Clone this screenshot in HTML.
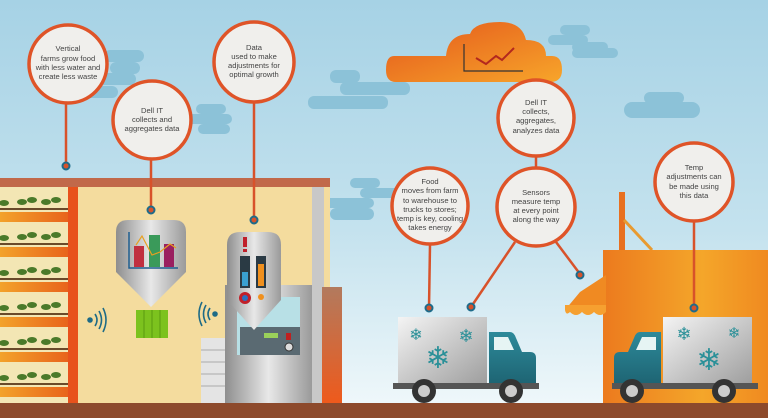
<!DOCTYPE html>
<html><head><meta charset="utf-8"><style>
html,body{margin:0;padding:0;width:768px;height:418px;overflow:hidden}
svg{display:block}
text{font-family:"Liberation Sans",sans-serif;font-size:7.6px;fill:#444;text-anchor:middle}
</style></head><body>
<svg width="768" height="418" viewBox="0 0 768 418" xmlns="http://www.w3.org/2000/svg">
<defs>
<linearGradient id="sky" x1="0" y1="0" x2="0" y2="1">
<stop offset="0" stop-color="#a6d2e5"/><stop offset="0.55" stop-color="#c4e2ee"/><stop offset="1" stop-color="#f2f9fb"/></linearGradient>
<linearGradient id="orc" x1="0" y1="0" x2="1" y2="1">
<stop offset="0" stop-color="#e4571c"/><stop offset="1" stop-color="#f7a52a"/></linearGradient>
<linearGradient id="store" x1="0" y1="0" x2="1" y2="0">
<stop offset="0" stop-color="#ec7a1e"/><stop offset="0.6" stop-color="#f4a62a"/><stop offset="1" stop-color="#f08a20"/></linearGradient>
<linearGradient id="gray" x1="0" y1="0" x2="1" y2="0">
<stop offset="0" stop-color="#8e8e8e"/><stop offset="0.5" stop-color="#e8e8e8"/><stop offset="1" stop-color="#9a9a9a"/></linearGradient>
<linearGradient id="box" x1="0" y1="0" x2="1" y2="1">
<stop offset="0" stop-color="#f4f4f4"/><stop offset="1" stop-color="#9d9d9d"/></linearGradient>
<linearGradient id="col" x1="0" y1="0" x2="0" y2="1">
<stop offset="0" stop-color="#b27a5e"/><stop offset="1" stop-color="#ee5a1c"/></linearGradient>
<linearGradient id="shelf" x1="0" y1="0" x2="1" y2="0">
<stop offset="0" stop-color="#f3a22a"/><stop offset="1" stop-color="#e8641c"/></linearGradient>
<linearGradient id="cab" x1="0" y1="0" x2="0" y2="1">
<stop offset="0" stop-color="#2d8a9a"/><stop offset="1" stop-color="#1e6473"/></linearGradient>
</defs>
<rect width="768" height="418" fill="url(#sky)"/>
<!-- blue clouds -->
<g fill="#8cc2d8">
<rect x="104" y="50" width="40" height="12" rx="6"/><rect x="110" y="62" width="30" height="12" rx="6"/><rect x="96" y="73" width="40" height="12" rx="6"/><rect x="44" y="86" width="74" height="12" rx="6"/>
<rect x="196" y="104" width="30" height="10" rx="5"/><rect x="186" y="114" width="46" height="10" rx="5"/><rect x="198" y="124" width="32" height="10" rx="5"/>
<rect x="330" y="70" width="30" height="13" rx="6"/><rect x="340" y="82" width="70" height="13" rx="6"/><rect x="308" y="96" width="80" height="13" rx="6"/>
<rect x="350" y="178" width="30" height="10" rx="5"/><rect x="360" y="188" width="40" height="10" rx="5"/><rect x="324" y="198" width="50" height="10" rx="5"/><rect x="330" y="208" width="44" height="12" rx="6"/>
<rect x="560" y="25" width="30" height="10" rx="5"/><rect x="548" y="35" width="40" height="10" rx="5"/><rect x="572" y="42" width="36" height="10" rx="5"/><rect x="572" y="48" width="46" height="10" rx="5"/>
<rect x="644" y="92" width="40" height="12" rx="6"/><rect x="624" y="102" width="76" height="16" rx="8"/>
</g>
<!-- orange cloud -->
<path d="M394 56 H446 Q448 34 470 34 Q474 22 500 22 Q522 22 526 40 Q546 40 546 56 H552 Q562 56 562 70 Q562 82 550 82 H396 Q386 82 386 70 Q386 56 394 56Z" fill="url(#orc)"/>
<path d="M464 44 V71 H523" stroke="#333" stroke-width="1.2" fill="none"/>
<path d="M476 58 L486 64 L496 56 L502 60 L514 48" stroke="#b3281e" stroke-width="2" fill="none"/>
<!-- ground -->
<rect x="0" y="403" width="768" height="15" fill="#8d4a2c"/>
<!-- left building -->
<rect x="0" y="187" width="330" height="216" fill="#f4dc9e"/>
<rect x="312" y="187" width="12" height="216" fill="#c8c8c8"/>
<rect x="322" y="287" width="20" height="116" fill="url(#col)"/>
<rect x="0" y="178" width="330" height="9" fill="#c1694a"/>
<rect x="68" y="187" width="10" height="216" fill="#e8521c"/>
<rect x="0" y="187" width="68" height="216" fill="#f3e6b4"/>
<g>
<rect x="0" y="212" width="68" height="10" fill="url(#shelf)"/><rect x="0" y="247" width="68" height="10" fill="url(#shelf)"/><rect x="0" y="282" width="68" height="10" fill="url(#shelf)"/><rect x="0" y="317" width="68" height="10" fill="url(#shelf)"/><rect x="0" y="352" width="68" height="10" fill="url(#shelf)"/><rect x="0" y="387" width="68" height="10" fill="url(#shelf)"/>
</g>
<g fill="#4a7a2a">
<g id="pl"><ellipse cx="4" cy="203" rx="5" ry="3"/><ellipse cx="22" cy="202" rx="5" ry="3"/><ellipse cx="32" cy="200" rx="5" ry="3"/><ellipse cx="46" cy="202" rx="5" ry="3"/><ellipse cx="56" cy="200" rx="5" ry="3"/><rect x="0" y="208" width="68" height="2" fill="#6a4a2a"/></g>
<use href="#pl" y="35"/><use href="#pl" y="70"/><use href="#pl" y="105"/><use href="#pl" y="140"/><use href="#pl" y="175"/>
</g>
<!-- wifi -->
<g fill="none" stroke="#1e6b86" stroke-width="1.6">
<circle cx="90" cy="320" r="2" fill="#1e6b86"/><path d="M95 314 Q99 320 95 326"/><path d="M99 311 Q104 320 99 329"/><path d="M103 308 Q109 320 103 332"/>
<circle cx="215" cy="314" r="2" fill="#1e6b86"/><path d="M210 308 Q206 314 210 320"/><path d="M206 305 Q201 314 206 323"/><path d="M202 302 Q196 314 202 326"/>
</g>
<!-- gauge 1 -->
<path d="M128 220 H174 Q186 220 186 232 V272 L151 307 L116 272 V232 Q116 220 128 220Z" fill="url(#gray)"/>
<path d="M129 232 V268 H178" stroke="#1e5f90" stroke-width="1.5" fill="none"/>
<rect x="134" y="246" width="10" height="21" fill="#c03040"/><rect x="149" y="235" width="11" height="32" fill="#3a9a5a"/><rect x="164" y="244" width="10" height="23" fill="#9a2060"/>
<path d="M136 245 L142 236 L152 255 L160 252 L170 244 L176 248" stroke="#e8a020" stroke-width="1.2" fill="none"/>
<rect x="136" y="310" width="32" height="28" fill="#7cc21e"/>
<g stroke="#5a9a10"><line x1="144" y1="310" x2="144" y2="338"/><line x1="152" y1="310" x2="152" y2="338"/><line x1="160" y1="310" x2="160" y2="338"/></g>
<!-- machine -->
<rect x="225" y="285" width="87" height="118" fill="url(#gray)"/>
<rect x="237" y="297" width="63" height="58" fill="#b8e0e6"/>
<rect x="240" y="327" width="60" height="28" fill="#5a6a72"/>
<rect x="264" y="333" width="14" height="5" fill="#9ad05a"/><circle cx="289" cy="347" r="4" fill="#ddd" stroke="#333"/><rect x="286" y="333" width="5" height="7" fill="#c02020"/>
<rect x="201" y="338" width="24" height="65" fill="#e4e4e4"/>
<g stroke="#aaa"><line x1="201" y1="350" x2="225" y2="350"/><line x1="201" y1="362" x2="225" y2="362"/><line x1="201" y1="374" x2="225" y2="374"/><line x1="201" y1="386" x2="225" y2="386"/></g>
<path d="M240 232 H268 Q281 232 281 245 V300 L254 330 L227 300 V245 Q227 232 240 232Z" fill="url(#gray)"/>
<rect x="243" y="237" width="4" height="10" fill="#c0202a"/><rect x="243" y="249" width="4" height="3" fill="#c0202a"/>
<rect x="240" y="256" width="10" height="32" fill="#2a3a44"/><rect x="242" y="272" width="6" height="14" fill="#3aa0d0"/>
<rect x="256" y="256" width="10" height="32" fill="#2a3a44"/><rect x="258" y="264" width="6" height="22" fill="#f0901e"/>
<circle cx="245" cy="298" r="6" fill="#c0202a"/><circle cx="245" cy="298" r="3" fill="#2a70c0"/><circle cx="261" cy="297" r="3" fill="#f0901e"/>
<!-- store -->
<rect x="619" y="192" width="6" height="60" fill="#e87020"/>
<line x1="624" y1="220" x2="652" y2="250" stroke="#e89a30" stroke-width="3"/>
<rect x="603" y="250" width="165" height="153" fill="url(#store)"/>
<path d="M580 292 L606 275 V310 H565Z" fill="#f08a22"/>
<path d="M565 305 H606 V312 Q600 318 594 312 Q588 318 582 312 Q576 318 570 312 Q566 316 565 310Z" fill="#f6a030"/>
<!-- truck 1 -->
<rect x="398" y="317" width="89" height="68" fill="url(#box)"/>
<path d="M489 332 H510 Q514 332 516 338 L522 352 H530 Q536 352 536 358 V384 H489Z" fill="url(#cab)"/>
<path d="M494 337 H508 L514 350 H494Z" fill="#e6f4f4"/>
<rect x="393" y="383" width="146" height="6" fill="#555"/>
<circle cx="424" cy="391" r="12" fill="#333"/><circle cx="424" cy="391" r="6" fill="#ccc"/>
<circle cx="511" cy="391" r="12" fill="#333"/><circle cx="511" cy="391" r="6" fill="#ccc"/>
<text x="438" y="368" style="font-size:30px;fill:#2a9098">❄</text><text x="416" y="340" style="font-size:16px;fill:#2a9098">❄</text><text x="466" y="342" style="font-size:18px;fill:#2a9098">❄</text>
<!-- truck 2 -->
<rect x="663" y="317" width="89" height="68" fill="url(#box)"/>
<path d="M661 332 H640 Q636 332 634 338 L628 352 H620 Q614 352 614 358 V384 H661Z" fill="url(#cab)"/>
<path d="M656 337 H642 L636 350 H656Z" fill="#e6f4f4"/>
<rect x="612" y="383" width="146" height="6" fill="#555"/>
<circle cx="632" cy="391" r="12" fill="#333"/><circle cx="632" cy="391" r="6" fill="#ccc"/>
<circle cx="724" cy="391" r="12" fill="#333"/><circle cx="724" cy="391" r="6" fill="#ccc"/>
<text x="709" y="370" style="font-size:30px;fill:#2a9098">❄</text><text x="684" y="340" style="font-size:18px;fill:#2a9098">❄</text><text x="734" y="338" style="font-size:15px;fill:#2a9098">❄</text>
<!-- connectors -->
<g stroke="#d8522a" stroke-width="2.5" fill="none">
<line x1="66" y1="104" x2="66" y2="166"/><line x1="151" y1="160" x2="151" y2="210"/><line x1="254" y1="103" x2="254" y2="220"/>
<line x1="430" y1="245" x2="429" y2="308"/><line x1="536" y1="157" x2="536" y2="167"/>
<line x1="515" y1="242" x2="471" y2="307"/><line x1="556" y1="242" x2="580" y2="274"/>
<line x1="694" y1="222" x2="694" y2="308"/>
</g>
<g fill="#d8522a" stroke="#1e6b8a" stroke-width="2">
<circle cx="66" cy="166" r="3.5"/><circle cx="151" cy="210" r="3.5"/><circle cx="254" cy="220" r="3.5"/><circle cx="429" cy="308" r="3.5"/><circle cx="471" cy="307" r="3.5"/><circle cx="580" cy="275" r="3.5"/><circle cx="694" cy="308" r="3.5"/>
</g>
<!-- circles -->
<g fill="#f0efec" stroke="#df5428" stroke-width="3.5">
<circle cx="68" cy="64" r="39"/><circle cx="152" cy="120" r="39"/><circle cx="254" cy="62" r="40"/>
<circle cx="430" cy="206" r="38"/><circle cx="536" cy="118" r="38"/><circle cx="536" cy="207" r="39"/><circle cx="694" cy="182" r="39"/>
</g>
<text x="68" y="51">Vertical</text><text x="68" y="61">farms grow food</text><text x="68" y="70">with less water and</text><text x="68" y="79">create less waste</text>
<text x="152" y="113">Dell IT</text><text x="152" y="122">collects and</text><text x="152" y="131">aggregates data</text>
<text x="254" y="50">Data</text><text x="254" y="59">used to make</text><text x="254" y="68">adjustments for</text><text x="254" y="77">optimal growth</text>
<text x="430" y="184">Food</text><text x="430" y="193">moves from farm</text><text x="430" y="203">to warehouse to</text><text x="430" y="212">trucks to stores;</text><text x="430" y="221">temp is key, cooling</text><text x="430" y="230">takes energy</text>
<text x="536" y="105">Dell IT</text><text x="536" y="114">collects,</text><text x="536" y="123">aggregates,</text><text x="536" y="133">analyzes data</text>
<text x="536" y="195">Sensors</text><text x="536" y="204">measure temp</text><text x="536" y="213">at every point</text><text x="536" y="222">along the way</text>
<text x="694" y="170">Temp</text><text x="694" y="179">adjustments can</text><text x="694" y="189">be made using</text><text x="694" y="198">this data</text>
</svg>
</body></html>
